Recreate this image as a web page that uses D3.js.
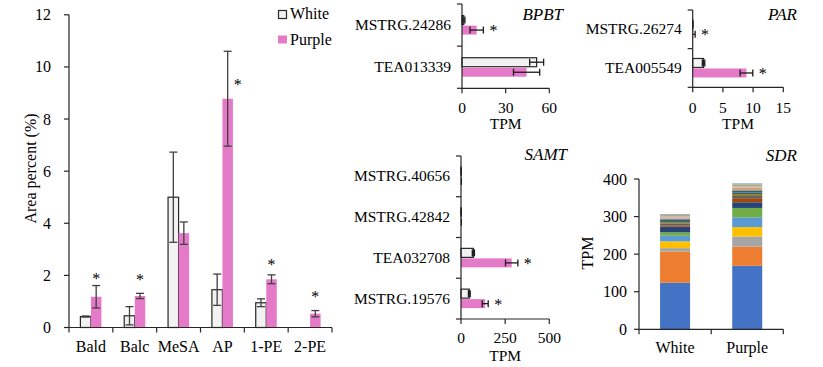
<!DOCTYPE html>
<html><head><meta charset="utf-8">
<script src="https://cdn.jsdelivr.net/npm/d3@7"></script>
<style>
body{margin:0;background:#fff;}
svg text{font-family:"Liberation Serif","Times New Roman",serif;fill:#000;}
</style></head>
<body><svg id="c" width="823" height="367"></svg>
<script>
// ---------- data ----------
const seriesNames = ["White", "Purple"];

// Left: volatile area percent
const leftCats = ["Bald", "Balc", "MeSA", "AP", "1-PE", "2-PE"];
const leftWhite = [0.42, 0.45, 5.0, 1.45, 0.95, 0];
const leftWhiteErr = [0.02, 0.35, 1.73, 0.6, 0.15, 0];
const leftPurple = [1.18, 1.21, 3.62, 8.78, 1.85, 0.53];
const leftPurpleErr = [0.43, 0.1, 0.43, 1.82, 0.17, 0.12];
const leftStarY = [2.0, 1.95, null, 9.45, 2.55, 1.3];
const leftTicks = [0, 2, 4, 6, 8, 10, 12];

// BPBT
const bpbtCats = ["MSTRG.24286", "TEA013339"];
const bpbtWhite = [1.2, 51.3];
const bpbtWhiteErr = [0.8, 4.8];
const bpbtPurple = [10.1, 44.4];
const bpbtPurpleErr = [4.6, 9.0];
const bpbtSig = [true, false];
const bpbtTicks = [0, 30, 60];

// PAR
const parCats = ["MSTRG.26274", "TEA005549"];
const parWhite = [0.02, 1.8];
const parWhiteErr = [0.02, 0.2];
const parPurple = [0.1, 8.9];
const parPurpleErr = [0.3, 1.05];
const parSig = [true, true];
const parTicks = [0, 5, 10, 15];

// SAMT
const samtCats = ["MSTRG.40656", "MSTRG.42842", "TEA032708", "MSTRG.19576"];
const samtWhite = [0.5, 0.5, 70, 47];
const samtWhiteErr = [0.5, 0.5, 6, 5];
const samtPurple = [1, 1, 287, 137];
const samtPurpleErr = [1, 1, 35, 17];
const samtSig = [false, false, true, true];
const samtTicks = [0, 250, 500];

// SDR stacked (one value per gene, White / Purple)
const sdrCats = ["White", "Purple"];
const sdrWhite =  [124, 83, 9, 18, 15, 9, 15, 4, 4, 3, 4, 3, 3.5, 3.5, 3, 3, 2.5];
const sdrPurple = [169, 51, 27, 25, 26, 25, 15, 11, 6, 4.5, 4.5, 5, 3.5, 4.5, 3.5, 4.5, 3.5];
const sdrTicks = [0, 100, 200, 300, 400];
const sdrColors = ["#4472C4","#ED7D31","#A5A5A5","#FFC000","#5B9BD5","#70AD47","#264478","#9E480E",
  "#636363","#997300","#255E91","#43682B","#698ED0","#F1975A","#B7B7B7","#C9A34F","#7CAFDD"];

// ---------- styles ----------
const PINK = "#e57ac8", WFILL = "#f2f2f2", AX = "#262626", ERR = "#404040";
const svg = d3.select("#c");

function line(g, x1, y1, x2, y2, col, w) {
  g.append("line").attr("x1", x1).attr("y1", y1).attr("x2", x2).attr("y2", y2)
    .attr("stroke", col || AX).attr("stroke-width", w || 1.2);
}
function text(g, x, y, s, opt) {
  opt = opt || {};
  const t = g.append("text").attr("x", x).attr("y", y).text(s)
    .attr("font-size", opt.size || 15.5).attr("text-anchor", opt.anchor || "start");
  if (opt.italic) t.attr("font-style", "italic");
  if (opt.rot) t.attr("transform", `rotate(-90,${x},${y})`);
  return t;
}

// ---------- left chart ----------
(function () {
  const g = svg.append("g");
  const x0 = d3.scaleBand().domain(leftCats).range([69, 332]).padding(0);
  const y = d3.scaleLinear().domain([0, 12]).range([327.5, 14.8]);
  const bw = x0.bandwidth();
  const x1 = d3.scaleBand().domain(seriesNames).range([0, bw * 0.48]);
  const off = (bw - bw * 0.48) / 2;
  const vals = [leftWhite, leftPurple], errs = [leftWhiteErr, leftPurpleErr];

  leftCats.forEach((c, i) => {
    seriesNames.forEach((s, k) => {
      const v = vals[k][i];
      if (v <= 0) return;
      const bx = x0(c) + off + x1(s);
      g.append("rect").attr("x", bx).attr("y", y(v)).attr("width", x1.bandwidth())
        .attr("height", y(0) - y(v))
        .attr("fill", k === 0 ? WFILL : PINK)
        .attr("stroke", k === 0 ? AX : "none").attr("stroke-width", 1.2);
    });
  });
  // error bars
  leftCats.forEach((c, i) => {
    seriesNames.forEach((s, k) => {
      const v = vals[k][i], e = errs[k][i];
      if (v <= 0) return;
      const cx = x0(c) + off + x1(s) + x1.bandwidth() / 2;
      line(g, cx, y(v + e), cx, y(v - e), ERR, 1.3);
      line(g, cx - 4, y(v + e), cx + 4, y(v + e), ERR, 1.3);
      line(g, cx - 4, y(v - e), cx + 4, y(v - e), ERR, 1.3);
    });
  });
  // asterisks
  leftCats.forEach((c, i) => {
    const sy = leftStarY[i];
    if (sy == null) return;
    const cx = x0(c) + off + x1("Purple") + x1.bandwidth() / 2;
    const top = leftPurple[i] + leftPurpleErr[i];
    const sx = sy < top ? cx + 10 : cx;
    text(g, sx, y(sy) + 8.6, "*", { size: 16, anchor: "middle" });
  });
  // axes
  line(g, 69, y(12), 69, y(0));
  leftTicks.forEach(t => {
    line(g, 64, y(t), 69, y(t));
    text(g, 51, y(t) + 5.5, t, { size: 16, anchor: "end" });
  });
  line(g, 69, y(0), 332, y(0));
  const bounds = leftCats.map(c => x0(c)).concat([x0(leftCats[leftCats.length - 1]) + bw]);
  bounds.forEach(b => line(g, b, y(0), b, y(0) + 5));
  leftCats.forEach(c => text(g, x0(c) + bw / 2, 351.5, c, { size: 16, anchor: "middle" }));
  text(g, 36, 168.5, "Area percent (%)", { size: 16, anchor: "middle", rot: true });
  // legend
  g.append("rect").attr("x", 278.5).attr("y", 10.5).attr("width", 8).attr("height", 8)
    .attr("fill", WFILL).attr("stroke", AX).attr("stroke-width", 1.2);
  text(g, 290, 18.5, seriesNames[0], { size: 16 });
  g.append("rect").attr("x", 278).attr("y", 35.5).attr("width", 9).attr("height", 8).attr("fill", PINK);
  text(g, 290, 44.5, seriesNames[1], { size: 16 });
})();

// ---------- horizontal panels ----------
function hPanel(o) {
  const g = svg.append("g");
  const x = d3.scaleLinear().domain(o.domain).range([o.x0, o.x1]);
  const y = d3.scaleBand().domain(o.cats).range([o.y0, o.y1]).padding(0);
  const vals = [o.white, o.purple], errs = [o.whiteErr, o.purpleErr];
  const bh = 9;
  o.cats.forEach((c, i) => {
    const cy = y(c) + y.bandwidth() / 2;
    seriesNames.forEach((s, k) => {
      const v = vals[k][i], e = errs[k][i];
      const by = k === 0 ? cy - bh - 0.5 : cy + 0.5;
      g.append("rect").attr("x", x(0)).attr("y", by).attr("width", Math.max(0, x(v) - x(0)))
        .attr("height", bh)
        .attr("fill", k === 0 ? WFILL : PINK)
        .attr("stroke", k === 0 ? AX : "none").attr("stroke-width", 1.2);
      const ey = by + bh / 2;
      const lo = Math.max(0, v - e);
      line(g, x(lo), ey, x(v + e), ey, "#1a1a1a", 1.3);
      line(g, x(v + e), ey - 3.5, x(v + e), ey + 3.5, "#1a1a1a", 1.3);
      if (v - e > 0) line(g, x(v - e), ey - 3.5, x(v - e), ey + 3.5, "#1a1a1a", 1.3);
    });
    if (o.sig[i]) {
      const end = x(o.purple[i] + o.purpleErr[i]);
      text(g, end + 10, cy + 6 + 5, "*", { size: 16, anchor: "middle" });
    }
    text(g, o.x0 - 11, cy + 5, c, { anchor: "end" });
  });
  // axes
  line(g, x(o.domain[0]), o.y0, x(o.domain[0]), o.y1);
  const bounds = o.cats.map(c => y(c)).concat([o.y1]);
  bounds.forEach(b => line(g, o.x0 - 5, b, o.x0, b));
  line(g, o.x0, o.y1, o.x1, o.y1);
  o.ticks.forEach(t => {
    line(g, x(t), o.y1, x(t), o.y1 + 5);
    text(g, x(t), o.tickBase, t, { anchor: "middle" });
  });
  text(g, (o.x0 + o.x1) / 2, o.labBase, "TPM", { anchor: "middle" });
  text(g, o.titleX, o.titleY, o.title, { size: 17, anchor: "end", italic: true });
}

hPanel({ cats: bpbtCats, white: bpbtWhite, whiteErr: bpbtWhiteErr, purple: bpbtPurple, purpleErr: bpbtPurpleErr,
  sig: bpbtSig, ticks: bpbtTicks, domain: [0, 60], x0: 462, x1: 549.3, y0: 4, y1: 88.3,
  tickBase: 113.3, labBase: 129, title: "BPBT", titleX: 563, titleY: 20 });
hPanel({ cats: parCats, white: parWhite, whiteErr: parWhiteErr, purple: parPurple, purpleErr: parPurpleErr,
  sig: parSig, ticks: parTicks, domain: [0, 15], x0: 692.7, x1: 783.3, y0: 10, y1: 87.3,
  tickBase: 113.3, labBase: 129, title: "PAR", titleX: 797, titleY: 20 });
hPanel({ cats: samtCats, white: samtWhite, whiteErr: samtWhiteErr, purple: samtPurple, purpleErr: samtPurpleErr,
  sig: samtSig, ticks: samtTicks, domain: [0, 500], x0: 461, x1: 549.3, y0: 156, y1: 319,
  tickBase: 343.3, labBase: 360.5, title: "SAMT", titleX: 567, titleY: 160 });

// ---------- SDR stacked ----------
(function () {
  const g = svg.append("g");
  const x = d3.scaleBand().domain(sdrCats).range([639, 783.3]).paddingInner(0.58).paddingOuter(0.29);
  const y = d3.scaleLinear().domain([0, 400]).range([329.3, 179]);
  const rows = sdrWhite.map((w, i) => ({ key: "s" + i, White: w, Purple: sdrPurple[i] }));
  const stackData = sdrCats.map(c => {
    const o = { cat: c };
    rows.forEach(r => o[r.key] = r[c]);
    return o;
  });
  const stack = d3.stack().keys(rows.map(r => r.key))(stackData);
  const bw = 30;
  stack.forEach((layer, li) => {
    layer.forEach(d => {
      const cx = x(d.data.cat) + x.bandwidth() / 2;
      g.append("rect").attr("x", cx - bw / 2).attr("y", y(d[1])).attr("width", bw)
        .attr("height", Math.max(0, y(d[0]) - y(d[1]))).attr("fill", sdrColors[li % sdrColors.length]);
    });
  });
  line(g, 639, y(400), 639, y(0));
  sdrTicks.forEach(t => {
    line(g, 634, y(t), 639, y(t));
    text(g, 627, y(t) + 5.5, t, { size: 16, anchor: "end" });
  });
  line(g, 639, y(0), 783.3, y(0));
  [639, 711.2, 783.3].forEach(b => line(g, b, y(0), b, y(0) + 5));
  sdrCats.forEach(c => text(g, x(c) + x.bandwidth() / 2, 353.3, c, { size: 16, anchor: "middle" }));
  text(g, 593, 253, "TPM", { size: 16, anchor: "middle", rot: true });
  text(g, 797, 160.7, "SDR", { size: 17, anchor: "end", italic: true });
})();
</script></body></html>
